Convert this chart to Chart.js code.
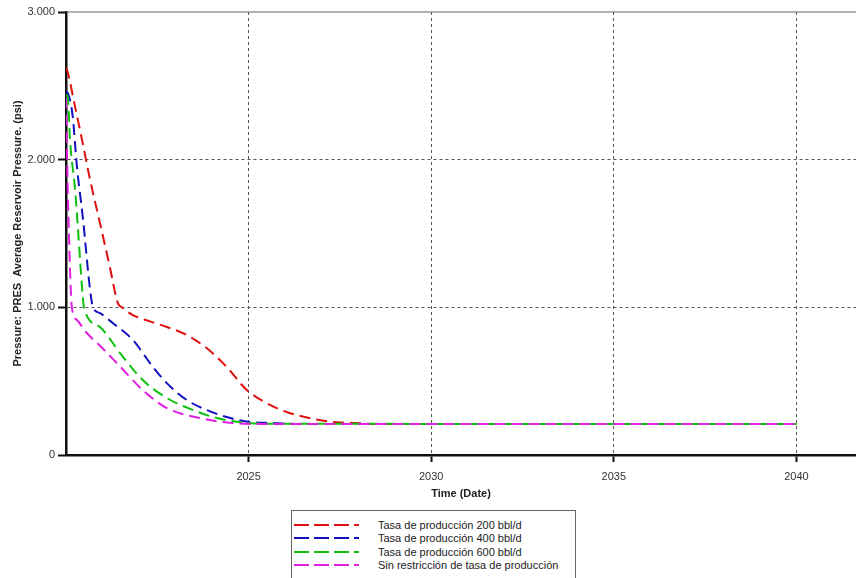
<!DOCTYPE html>
<html>
<head>
<meta charset="utf-8">
<script src="https://cdn.jsdelivr.net/npm/chart.js@4/dist/chart.umd.min.js"></script>
<style>
  body { margin: 0; background: #fff; font-family: "Liberation Sans", Arial, sans-serif; }
  #wrap { position: relative; width: 856px; height: 578px; }
  #box { position: absolute; left: 0; top: 0; width: 856px; height: 505px; }
  #leyenda { position: absolute; left: 291px; top: 510px; width: 285px; height: 80px;
             border: 1px solid #666; box-sizing: border-box; padding-top: 7px; }
  .fila { height: 13.5px; display: flex; align-items: center; font-size: 11px; color: #222; }
  .fila svg { margin-left: 2px; margin-right: 19px; }
</style>
</head>
<body>
<div id="wrap">
  <div id="box"><canvas id="presionChart"></canvas></div>
  <div id="leyenda"></div>
</div>
<script>
// datos (anio decimal, psi)
const nombres = [
    "Tasa de producción 200 bbl/d",
    "Tasa de producción 400 bbl/d",
    "Tasa de producción 600 bbl/d",
    "Sin restricción de tasa de producción"
];
const colores = ["#e01010", "#1010c0", "#10c010", "#e020e0"];

const anios200 = [2020.0, 2020.03, 2020.25, 2020.44, 2020.66, 2020.93, 2021.2, 2021.42, 2021.53, 2021.83, 2022.3, 2022.76, 2023.31, 2023.85, 2024.4, 2024.95, 2025.49, 2026.04, 2026.67, 2027.3, 2027.84, 2028.6, 2040];
const presion200 = [2620, 2607, 2356, 2133, 1862, 1571, 1273, 1029, 1000, 948, 905, 867, 812, 724, 596, 440, 352, 291, 250, 223, 217, 210, 210];

const anios400 = [2020.0, 2020.05, 2020.18, 2020.3, 2020.46, 2020.66, 2020.74, 2020.93, 2021.28, 2021.83, 2022.38, 2022.76, 2023.31, 2023.85, 2024.4, 2025.03, 2025.66, 2026.4, 2040];
const presion400 = [2460, 2450, 2300, 1950, 1611, 1117, 1000, 961, 894, 779, 596, 487, 372, 305, 257, 223, 217, 210, 210];

const anios600 = [2020.0, 2020.05, 2020.11, 2020.25, 2020.46, 2020.49, 2020.93, 2021.48, 2022.1, 2022.76, 2023.47, 2024.13, 2024.75, 2025.44, 2040];
const presion600 = [2440, 2420, 2133, 1794, 1070, 1000, 867, 690, 508, 386, 305, 250, 223, 212, 210];

const aniosSin = [2020.0, 2020.03, 2020.08, 2020.16, 2020.3, 2020.57, 2020.93, 2021.39, 2022.1, 2022.76, 2023.66, 2024.56, 2025.3, 2040];
const presionSin = [2420, 2000, 1500, 1000, 914, 826, 740, 623, 440, 318, 250, 217, 210, 210];

const ticksX = [2025, 2030, 2035, 2040];
const ticksY = [0, 1000, 2000, 3000];

function puntos(xs, ys) {
    return xs.map((x, i) => ({ x: x, y: ys[i] }));
}

const series = [
    puntos(anios200, presion200),
    puntos(anios400, presion400),
    puntos(anios600, presion600),
    puntos(aniosSin, presionSin)
];

const fuente = "'Liberation Sans', Arial, sans-serif";

// linea superior del area del grafico
const bordeSuperior = {
    id: "bordeSuperior",
    afterDraw(chart) {
        const c = chart.ctx, a = chart.chartArea;
        c.save();
        c.strokeStyle = "#666";
        c.lineWidth = 1.2;
        c.beginPath();
        c.moveTo(a.left, a.top);
        c.lineTo(chart.width, a.top);
        c.stroke();
        c.restore();
    }
};

const ctx = document.getElementById("presionChart").getContext("2d");

let chart = new Chart(ctx, {
    type: "line",
    data: {
        datasets: series.map((d, i) => ({
            label: nombres[i],
            data: d,
            borderColor: colores[i],
            borderWidth: 2,
            borderDash: [11, 6],
            pointRadius: 0,
            cubicInterpolationMode: "monotone",
            order: 4 - i
        }))
    },
    options: {
        responsive: true,
        maintainAspectRatio: false,
        animation: false,
        layout: { padding: { top: 12, right: 0, left: 0, bottom: 0 } },
        plugins: { legend: { display: false }, tooltip: { enabled: false } },
        scales: {
            x: {
                type: "linear",
                min: 2020,
                max: 2041.63,
                afterBuildTicks: s => { s.ticks = ticksX.map(v => ({ value: v })); },
                afterFit: s => { s.height = 50; },
                ticks: { color: "#333", font: { family: fuente, size: 11 }, padding: 8, callback: v => String(v) },
                grid: { color: "#555", lineWidth: 1, tickColor: "#111", tickLength: 7, tickWidth: 2 },
                border: { color: "#111", width: 2.5, dash: [3, 3] },
                title: { display: true, text: "Time (Date)", color: "#222", font: { family: fuente, size: 11, weight: "bold" }, padding: { top: 0, bottom: 4 } }
            },
            y: {
                min: 0,
                max: 3000,
                afterBuildTicks: s => { s.ticks = ticksY.map(v => ({ value: v })); },
                afterFit: s => { s.width = 66; },
                ticks: { color: "#333", font: { family: fuente, size: 11 }, padding: 3, callback: v => v === 0 ? "0" : v.toLocaleString("de-DE") },
                grid: {
                    color: c => (c.tick && (c.tick.value === 0 || c.tick.value === 3000)) ? "rgba(0,0,0,0)" : "#555",
                    lineWidth: 1, tickColor: "#111", tickLength: 8, tickWidth: 2
                },
                border: { color: "#111", width: 2.5, dash: [3, 3] },
                title: { display: true, text: "Pressure: PRES  Average Reservoir Pressure. (psi)", color: "#222", font: { family: fuente, size: 11, weight: "bold" }, padding: { top: 11, bottom: 0 } }
            }
        }
    },
    plugins: [bordeSuperior]
});

// leyenda en html con muestra de linea discontinua
let leyenda = document.getElementById("leyenda");
nombres.forEach((n, i) => {
    leyenda.innerHTML += `<div class="fila"><svg width="65" height="4"><line x1="0" y1="2" x2="65" y2="2" stroke="${colores[i]}" stroke-width="2" stroke-dasharray="15,5"/></svg><span>${n}</span></div>`;
});
</script>
</body>
</html>
